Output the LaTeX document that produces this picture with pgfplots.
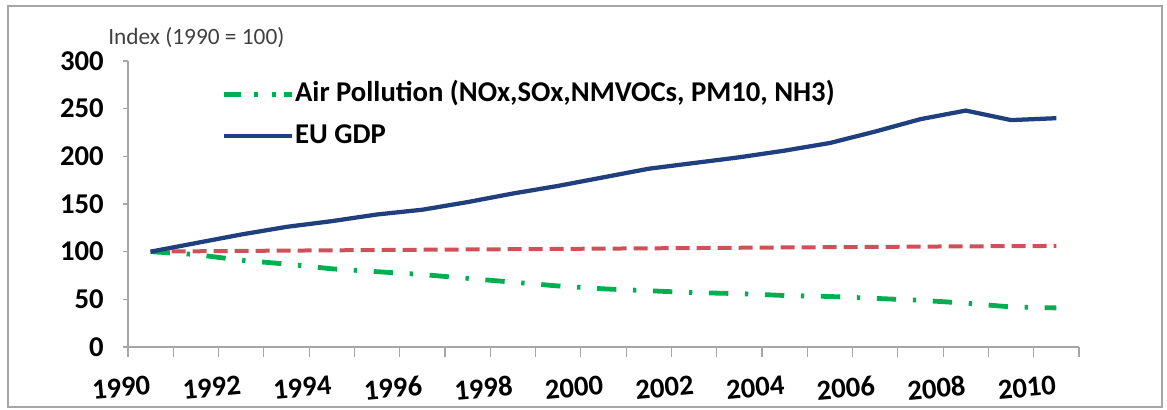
\documentclass[border=0pt]{standalone}
\usepackage{fontspec}
\setmainfont{Carlito}
\usepackage{pgfplots}
\pgfplotsset{compat=1.18}

\definecolor{gdpblue}{HTML}{1F3F7F}
\definecolor{polgreen}{HTML}{00B050}
\definecolor{refred}{HTML}{D0505A}

\newcommand{\bigfont}{\fontsize{21.5}{22}\selectfont\bfseries}

\begin{document}
\begin{tikzpicture}
% page = 1167 x 410 px, 1 px = 0.75pt
\useasboundingbox (0,0) rectangle (875.25pt,307.5pt);
\draw[gray!70, line width=1.8pt] (6pt,303pt) rectangle (871.5pt,2.25pt);

\begin{axis}[
  at={(96pt,47.25pt)}, anchor=south west,
  scale only axis, width=713.25pt, height=214.5pt,
  xmin=1989.5, xmax=2010.5,
  ymin=0, ymax=300,
  axis lines=left,
  axis line style={-, gray!70, line width=0.9pt},
  tick align=outside,
  ytick={0,50,...,300},
  major tick length=3.75pt,
  minor tick length=7.5pt,
  xtick={1990,1992,...,2010},
  xticklabels={1990,1992,1994,1996,1998,2000,2002,2004,2006,2008,2010},
  minor xtick={1989.5,1990.5,...,2010.5},
  major x tick style={draw=none},
  minor x tick style={draw=gray!70, line width=0.9pt},
  y tick style={draw=gray!70, line width=0.9pt},
  /pgf/number format/assume math mode=true,
  yticklabel style={font=\bigfont, xshift=-11pt},
  xticklabel style={font=\bigfont, rotate=5, anchor=north east, yshift=-14pt, xshift=1pt},
  legend style={at={(axis description cs:0.094,0.94)}, anchor=north west,
    draw=none, fill=none, font=\bigfont, row sep=11pt,
    nodes={inner sep=0.5pt, text height=15pt, text depth=4pt}},
  legend cell align=left,
  clip=false,
]
\addplot[refred, line width=3pt, dash pattern=on 10.5pt off 5.25pt, forget plot] coordinates {
  (1990,100) (1991,100.4) (1992,100.8) (1993,101.1) (1994,101.4) (1995,101.7)
  (1996,102) (1997,102.3) (1998,102.6) (1999,102.9) (2000,103.2) (2001,103.5)
  (2002,103.8) (2003,104.1) (2004,104.4) (2005,104.7) (2006,105) (2007,105.3)
  (2008,105.6) (2009,105.8) (2010,106)};
\addplot[polgreen, line width=3.6pt, dash pattern=on 14.5pt off 12.5pt on 2.5pt off 12.5pt,
  legend image code/.code={
    \draw[polgreen, line width=3.6pt] (0pt,0pt) -- (12.5pt,0pt);
    \draw[polgreen, line width=3.6pt] (22.5pt,0pt) -- (25.5pt,0pt);
    \draw[polgreen, line width=3.6pt] (36pt,0pt) -- (39pt,0pt);
    \draw[polgreen, line width=3.6pt] (45pt,0pt) -- (51pt,0pt);}] coordinates {
  (1990,100) (1991,97) (1992,91) (1993,87) (1994,82) (1995,79) (1996,76)
  (1997,72) (1998,68) (1999,64) (2000,61) (2001,59) (2002,57) (2003,56)
  (2004,54) (2005,53) (2006,51) (2007,49) (2008,46) (2009,42) (2010,41)};
\addlegendentry{Air Pollution (NOx,SOx,NMVOCs, PM10, NH3)}
\addplot[gdpblue, line width=3.2pt,
  legend image code/.code={\draw[gdpblue, line width=3.2pt] (0pt,0pt) -- (51pt,0pt);}] coordinates {
  (1990,100) (1991,109) (1992,118) (1993,126) (1994,132) (1995,139) (1996,144)
  (1997,152) (1998,161) (1999,169) (2000,178) (2001,187) (2002,193) (2003,199)
  (2004,206) (2005,214) (2006,226) (2007,239) (2008,248) (2009,238) (2010,240)};
\addlegendentry{EU GDP}
\end{axis}

\node[anchor=west, inner sep=0pt, text=black!75, font=\fontsize{17.5}{18}\selectfont]
  at (81pt,279pt) {Index (1990 = 100)};
\end{tikzpicture}
\end{document}
